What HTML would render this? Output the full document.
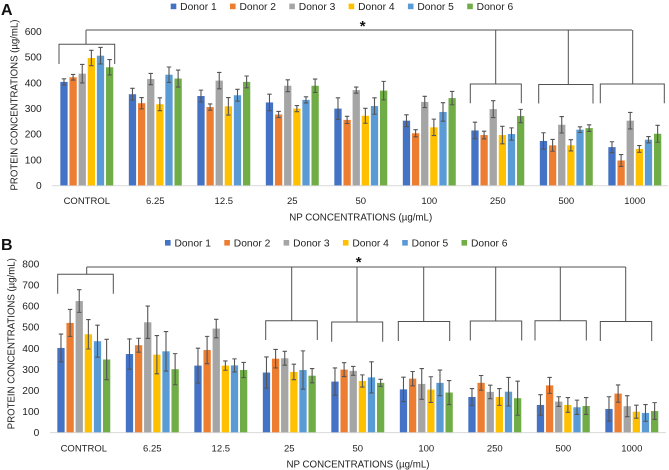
<!DOCTYPE html>
<html>
<head>
<meta charset="utf-8">
<style>
html,body{margin:0;padding:0;background:#fff;width:669px;height:470px;overflow:hidden}
svg{display:block;font-family:"Liberation Sans",sans-serif;fill:#1f1f1f;filter:blur(0.3px)}
</style>
</head>
<body>
<svg id="chart" width="669" height="470" viewBox="0 0 669 470" xmlns="http://www.w3.org/2000/svg"></svg>
<script>
const categories = ["CONTROL","6.25","12.5","25","50","100","250","500","1000"];
const donors = ["Donor 1","Donor 2","Donor 3","Donor 4","Donor 5","Donor 6"];
const donorColors = ["#4472c4","#ed7d31","#a5a5a5","#ffc000","#5b9bd5","#70ad47"];
const ticksA = [0,100,200,300,400,500,600];
const ticksB = [0,100,200,300,400,500,600,700,800];

const meansA = [
  [403,421,435,496,505,460],
  [355,320,414,316,431,416],
  [348,305,408,308,351,403],
  [323,276,388,299,333,388],
  [299,255,371,271,309,369],
  [252,203,325,226,286,340],
  [214,196,297,196,200,270],
  [173,156,236,156,217,223],
  [149,97,252,142,178,201]
];
const errorsA = [
  [12,11,36,30,32,30],
  [23,22,22,25,30,33],
  [23,12,32,34,23,23],
  [32,12,23,12,12,26],
  [42,14,12,29,32,36],
  [23,14,22,32,36,26],
  [32,15,33,34,24,26],
  [32,23,32,22,11,13],
  [21,23,32,13,12,33]
];
const meansB = [
  [401,520,624,466,433,346],
  [372,414,523,369,385,300],
  [317,391,493,317,318,296],
  [284,350,352,287,296,269],
  [241,298,292,244,261,235],
  [204,255,230,203,235,189],
  [168,235,192,168,193,162],
  [130,223,146,130,119,125],
  [111,184,124,98,92,101]
];
const errorsB = [
  [66,64,54,70,76,96],
  [72,33,77,91,94,74],
  [83,65,44,22,31,36],
  [74,44,33,37,91,34],
  [65,33,21,29,74,17],
  [58,34,73,61,61,57],
  [40,35,32,40,68,81],
  [49,38,23,35,34,40],
  [58,41,50,31,40,40]
];

const svgNS = "http://www.w3.org/2000/svg";
const root = document.getElementById("chart");

function make(parent, tag, attrs, text) {
  const el = document.createElementNS(svgNS, tag);
  for (const k in attrs) el.setAttribute(k, attrs[k]);
  if (text !== undefined) el.textContent = text;
  parent.appendChild(el);
  return el;
}

function drawBracket(parent, top, left, right, stem, yTop, yBottom) {
  const g = make(parent, "g", {fill:"none", stroke:"#505050", "stroke-width":"1"});
  
  
  make(g, "path", {d:"M"+left+" "+yBottom+"V"+yTop+"H"+right+"V"+yBottom});
  make(g, "path", {d:"M"+stem+" "+top+"V"+yTop});
}

function drawPanel(cfg) {
  const panel = make(root, "g", {});
  
  

  const yScale = v => cfg.y0 - (v / cfg.yMax) * (cfg.y0 - cfg.yTop);
  const groupX = i => cfg.x0 + i * 68.5;
  const barX = (i, j) => groupX(i) + (j - 2.5) * 9.13 - 3.65;

  const letter = make(panel, "text", {x:1, y:cfg.letterY, "font-size":"16", "font-weight":"bold", fill:"#111"}, cfg.id);
  
  

  donors.forEach((d, j) => {
    const entry = make(panel, "g", {});
    
    
    const lx = cfg.legendX + j * 59.3;
    make(entry, "rect", {x:lx, y:cfg.legendY - 2.7, width:5.6, height:5.6, fill:donorColors[j]});
    make(entry, "text", {x:lx + 9.5, y:cfg.legendY + 3.6, "font-size":"10", textLength:"36.5", lengthAdjust:"spacingAndGlyphs"}, d);
  });

  cfg.ticks.forEach(t => {
    const label = make(panel, "text", {x:cfg.tickRight, y:yScale(t) + 3.6, "font-size":"10.2", "text-anchor":"end"}, t);
    
    
  });

  const axis = make(panel, "line", {x1:cfg.axisLeft, x2:cfg.axisRight, y1:cfg.y0 + 0.3, y2:cfg.y0 + 0.3, stroke:"#d9d9d9", "stroke-width":"1"});
  
  

  categories.forEach((c, i) => {
    const label = make(panel, "text", {x:groupX(i), y:cfg.catY, "font-size":"9.5", "text-anchor":"middle"}, c);
    
    

    donors.forEach((d, j) => {
      const x = barX(i, j);
      const v = cfg.means[i][j];
      const e = cfg.errors[i][j];
      const bar = make(panel, "rect", {x:x, y:yScale(v), width:7.3, height:cfg.y0 - yScale(v), fill:donorColors[j]});
      
      
      const cx = x + 3.65;
      const hi = yScale(v + e);
      const lo = yScale(v - e);
      const whisker = make(panel, "path", {
        d:"M"+cx+" "+hi+"V"+lo+"M"+(cx-2.2)+" "+hi+"H"+(cx+2.2)+"M"+(cx-2.2)+" "+lo+"H"+(cx+2.2),
        fill:"none", stroke:"#555", "stroke-width":"1.1"
      });
      
      
    });
  });

  const yTitle = make(panel, "text", {
    transform:"translate("+cfg.yTitleX+" "+cfg.yTitleY+") rotate(-90)",
    "font-size":"10", "text-anchor":"middle", textLength:"171", lengthAdjust:"spacingAndGlyphs"
  }, "PROTEIN CONCENTRATIONS (µg/mL)");
  
  

  const xTitle = make(panel, "text", {
    x:cfg.xTitleX, y:cfg.xTitleY, "font-size":"10", "text-anchor":"middle", textLength:"143", lengthAdjust:"spacingAndGlyphs"
  }, "NP CONCENTRATIONS (µg/mL)");
  
  

  const topLine = make(panel, "line", {x1:cfg.topLeft, x2:cfg.topRight, y1:cfg.topY, y2:cfg.topY, stroke:"#505050", "stroke-width":"1"});
  
  

  cfg.brackets.forEach(b => drawBracket(panel, cfg.topY, b[0], b[1], b[2], b[3], b[4]));

  const star = make(panel, "text", {x:cfg.starX, y:cfg.starY, "font-size":"15", "font-weight":"bold", "text-anchor":"middle", fill:"#111"}, "*");
  
  
}

drawPanel({
  id:"A", means:meansA, errors:errorsA, ticks:ticksA, yMax:600,
  y0:185.4, yTop:31.3, x0:86.8, tickRight:41.7, axisLeft:52, axisRight:668,
  letterY:15, legendX:170.7, legendY:6.3, catY:203.8,
  yTitleX:17.5, yTitleY:105, xTitleX:360.7, xTitleY:220.5,
  topLeft:86, topRight:632, topY:30, starX:362.7, starY:31,
  brackets:[
    [59,114.7,86,44.3,64],
    [470.3,521.3,495.7,84,103.3],
    [538.7,593,568.3,84.5,103.5],
    [600.3,664.3,632.7,84,103.3]
  ]
});

drawPanel({
  id:"B", means:meansB, errors:errorsB, ticks:ticksB, yMax:800,
  y0:432.3, yTop:264, x0:83.8, tickRight:39.3, axisLeft:50, axisRight:666,
  letterY:250, legendX:165, legendY:242.7, catY:451.5,
  yTitleX:14.5, yTitleY:343.7, xTitleX:358, xTitleY:467.5,
  topLeft:86.7, topRight:625.7, topY:267, starX:358.7, starY:267,
  brackets:[
    [57.7,113.3,86.7,274.3,293.7],
    [265.7,317.3,291.7,320.7,340],
    [331.7,382.7,357,322,341.7],
    [398.3,449.7,423.7,321.5,341],
    [470.3,521.7,495.7,321,340.5],
    [535,586.3,560.3,320.7,340.5],
    [600.3,651.7,625.7,321.5,341]
  ]
});
</script>
</body>
</html>
